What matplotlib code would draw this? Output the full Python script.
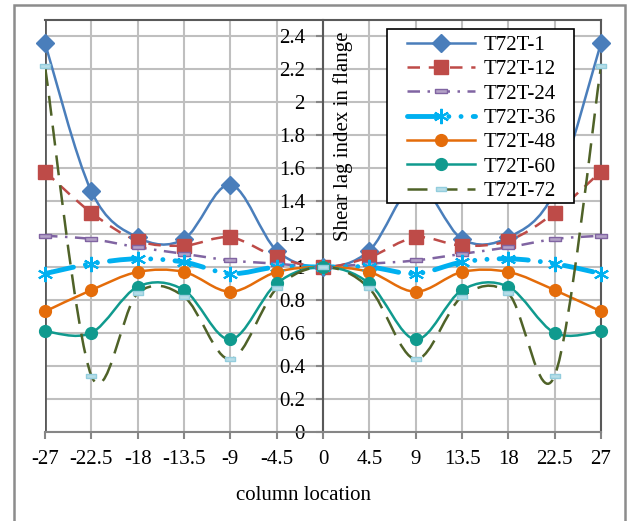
"""
Shear lag index in flange vs column location, for the T72T models.
Lines are drawn with Excel-style smoothing (Bezier through each point).
"""

import matplotlib
matplotlib.use("Agg")
import matplotlib.pyplot as plt
from matplotlib.path import Path
from matplotlib.patches import PathPatch, Rectangle
from matplotlib.lines import Line2D
from matplotlib.legend_handler import HandlerLine2D

plt.rcParams["font.family"] = ["Liberation Serif", "DejaVu Serif"]

FONT_SIZE = 15

# column locations along the flange
locations = [-27, -22.5, -18, -13.5, -9, -4.5, 0, 4.5, 9, 13.5, 18, 22.5, 27]
x_tick_labels = ["-27", "-22.5", "-18", "-13.5", "-9", "-4.5", "0",
                 "4.5", "9", "13.5", "18", "22.5", "27"]
y_ticks = [0, 0.2, 0.4, 0.6, 0.8, 1.0, 1.2, 1.4, 1.6, 1.8, 2.0, 2.2, 2.4]
y_tick_labels = ["0", "0.2", "0.4", "0.6", "0.8", "1", "1.2", "1.4",
                 "1.6", "1.8", "2", "2.2", "2.4"]

# shear lag index per model (symmetric about 0)
t72t_1 = [2.36, 1.46, 1.18, 1.17, 1.50, 1.10, 1.00,
          1.10, 1.50, 1.17, 1.18, 1.46, 2.36]
t72t_12 = [1.58, 1.33, 1.16, 1.13, 1.18, 1.06, 1.00,
           1.06, 1.18, 1.13, 1.16, 1.33, 1.58]
t72t_24 = [1.19, 1.17, 1.12, 1.08, 1.04, 1.02, 1.00,
           1.02, 1.04, 1.08, 1.12, 1.17, 1.19]
t72t_36 = [0.96, 1.02, 1.05, 1.03, 0.96, 1.00, 1.00,
           1.00, 0.96, 1.03, 1.05, 1.02, 0.96]
t72t_48 = [0.73, 0.86, 0.97, 0.97, 0.85, 0.97, 1.00,
           0.97, 0.85, 0.97, 0.97, 0.86, 0.73]
t72t_60 = [0.61, 0.60, 0.88, 0.86, 0.56, 0.90, 1.00,
           0.90, 0.56, 0.86, 0.88, 0.60, 0.61]
t72t_72 = [2.22, 0.34, 0.84, 0.82, 0.44, 0.87, 1.00,
           0.87, 0.44, 0.82, 0.84, 0.34, 2.22]

series_names = ["T72T-1", "T72T-12", "T72T-24", "T72T-36",
                "T72T-48", "T72T-60", "T72T-72"]
series_values = [t72t_1, t72t_12, t72t_24, t72t_36, t72t_48, t72t_60, t72t_72]

# small flat rectangle, like Excel's "dash" marker
DASH_MARKER = [(-1, -0.4), (1, -0.4), (1, 0.4), (-1, 0.4), (-1, -0.4)]

STYLES = [
    dict(color="#4A7EBB", lw=1.8, ls="-", marker="D", ms=9.5,
         mfc="#4A7EBB", mec="#4A7EBB", mew=1),
    dict(color="#BE4B48", lw=1.8, ls=(0, (5, 3.5)), marker="s", ms=9.5,
         mfc="#BE4B48", mec="#BE4B48", mew=1),
    dict(color="#8064A2", lw=1.8, ls=(0, (5, 3, 1, 3)), marker=DASH_MARKER,
         ms=8, mfc="#B3A2C7", mec="#8064A2", mew=1),
    dict(color="#00B0F0", lw=3.5, ls=(0, (6, 2.5, 0.01, 2.5, 0.01, 2.5)),
         marker=(6, 2, 0), ms=11, mfc="#00B0F0", mec="#00B0F0", mew=1.5),
    dict(color="#E46C0A", lw=1.8, ls="-", marker="o", ms=8.5,
         mfc="#E46C0A", mec="#E46C0A", mew=1),
    dict(color="#109A8E", lw=1.8, ls="-", marker="o", ms=8.5,
         mfc="#109A8E", mec="#109A8E", mew=1),
    dict(color="#4F6228", lw=1.8, ls=(0, (8, 4)), marker=DASH_MARKER,
         ms=7, mfc="#B7DEE8", mec="#93CDDD", mew=1),
]


def smooth_path(xs, ys):
    """Catmull-Rom style Bezier path through the points (Excel smoothing)."""
    n = len(xs)
    verts = [(xs[0], ys[0])]
    codes = [Path.MOVETO]
    for i in range(n - 1):
        a = i - 1 if i > 0 else i
        d = i + 2 if i + 2 < n else i + 1
        c1 = (xs[i] + (xs[i + 1] - xs[a]) / 6, ys[i] + (ys[i + 1] - ys[a]) / 6)
        c2 = (xs[i + 1] - (xs[d] - xs[i]) / 6, ys[i + 1] - (ys[d] - ys[i]) / 6)
        verts += [c1, c2, (xs[i + 1], ys[i + 1])]
        codes += [Path.CURVE4] * 3
    return Path(verts, codes)


def main():
    W, H = 633, 521
    fig = plt.figure(figsize=(W / 100, H / 100), dpi=100)
    ax = fig.add_axes([45 / W, (H - 431.7) / H, (601 - 45) / W, (431.7 - 20) / H])

    ax.set_xlim(-27, 27)
    ax.set_ylim(0, 2.5)

    handles = []
    for name, vals, st in zip(series_names, series_values, STYLES):
        patch = PathPatch(smooth_path(locations, vals), fill=False,
                          edgecolor=st["color"], lw=st["lw"], linestyle=st["ls"],
                          capstyle="round" if st["lw"] > 3 else "butt", zorder=3)
        ax.add_patch(patch)
        ax.plot(locations, vals, linestyle="none", marker=st["marker"],
                ms=st["ms"], mfc=st["mfc"], mec=st["mec"], mew=st["mew"],
                zorder=4, clip_on=False)
        h = Line2D([], [], color=st["color"], lw=st["lw"], linestyle=st["ls"],
                   marker=st["marker"], ms=st["ms"], mfc=st["mfc"],
                   mec=st["mec"], mew=st["mew"],
                   dash_capstyle="round" if st["lw"] > 3 else "butt")
        handles.append(h)

    # axes: y axis through x=0, x axis along y=0
    ax.set_xticks(locations)
    ax.set_xticklabels(x_tick_labels)
    ax.set_yticks(y_ticks)
    ax.set_yticklabels(y_tick_labels)
    ax.grid(True, color="#BFBFBF", lw=1.5, zorder=0)
    ax.set_axisbelow(True)

    ax.spines["left"].set_position(("data", 0))
    ax.spines["left"].set_color("#595959")
    ax.spines["left"].set_linewidth(1.5)
    ax.spines["left"].set_zorder(2)
    ax.spines["bottom"].set_color("#868686")
    ax.spines["bottom"].set_linewidth(1.5)
    for side in ["top", "right"]:
        ax.spines[side].set_color("#595959")
        ax.spines[side].set_linewidth(1.5)
    ax.axvline(-27, color="#595959", lw=2, zorder=2)

    ax.tick_params(axis="x", direction="out", length=5, width=1.5,
                   color="#868686", labelsize=FONT_SIZE, pad=8)
    ax.tick_params(axis="y", direction="out", length=5, width=1.5,
                   color="#868686", labelsize=FONT_SIZE, pad=8)

    ax.text(0.95, 2.43, "Shear lag index in flange", rotation=90,
            ha="left", va="top", fontsize=FONT_SIZE, zorder=5)

    fig.text(304 / W, 1 - 496 / H, "column location", ha="center",
             va="center", fontsize=FONT_SIZE)

    # legend box drawn separately so its size matches the original
    box = Rectangle((387 / W, 1 - 203 / H), (574 - 387) / W, (203 - 29) / H,
                    transform=fig.transFigure, facecolor="white",
                    edgecolor="black", lw=1.2, zorder=5.5, clip_on=False)
    ax.add_patch(box)
    leg = ax.legend(handles, series_names, loc="upper left",
                    bbox_to_anchor=(387 / W, 1 - 29 / H),
                    bbox_transform=fig.transFigure, fontsize=FONT_SIZE,
                    frameon=False, handlelength=3.94, handletextpad=0.38,
                    labelspacing=0.23, borderpad=0.3, borderaxespad=0,
                    handler_map={Line2D: HandlerLine2D(xpad=0.67)})
    leg.set_zorder(6)

    # outer chart frame
    fig.patches.append(Rectangle((14 / W, -0.02), (625 - 14) / W, 1.02 - 5 / H,
                                 transform=fig.transFigure, fill=False,
                                 edgecolor="#8C8C8C", lw=1.8))

    fig.savefig("out.png", dpi=100)
    plt.close(fig)


if __name__ == "__main__":
    main()
